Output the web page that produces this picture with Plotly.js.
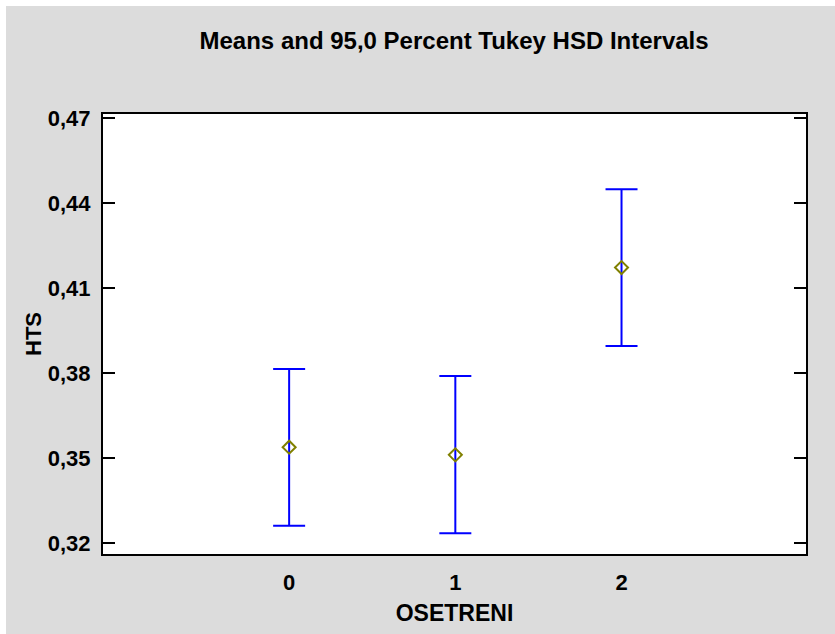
<!DOCTYPE html>
<html>
<head>
<meta charset="utf-8">
<script src="https://cdn.plot.ly/plotly-3.0.1.min.js"></script>
<style>
  html, body { margin: 0; padding: 0; background: #ffffff; width: 835px; height: 634px; overflow: hidden; }
  #chart { position: absolute; left: 6px; top: 6px; width: 829px; height: 628px; }
</style>
</head>
<body>
<div id="chart"></div>
<script>
// Data
const categories = [0, 1, 2];
const categoryLabels = ["0", "1", "2"];
const means = [0.3538, 0.3511, 0.4172];
const upper = [0.3814, 0.3789, 0.4448];
const lower = [0.3261, 0.3234, 0.3895];
const yTicks = [0.32, 0.35, 0.38, 0.41, 0.44, 0.47];

const errPlus = means.map((m, i) => upper[i] - m);
const errMinus = means.map((m, i) => m - lower[i]);

const font = "Liberation Sans, Arial, sans-serif";

const trace = {
  type: "scatter",
  mode: "markers",
  x: categories,
  y: means,
  marker: { symbol: "diamond-open", size: 10, color: "#808000", line: { width: 2, color: "#808000" } },
  error_y: {
    type: "data",
    symmetric: false,
    array: errPlus,
    arrayminus: errMinus,
    color: "#0000FF",
    thickness: 2,
    width: 16
  },
  showlegend: false,
  hoverinfo: "x+y"
};

const layout = {
  width: 829,
  height: 628,
  paper_bgcolor: "#DCDCDC",
  plot_bgcolor: "#FFFFFF",
  separators: ",.",
  margin: { l: 97, r: 29, t: 108, b: 80 },
  font: { family: font, color: "#000" },
  title: {
    text: "<b>Means and 95,0 Percent Tukey HSD Intervals</b>",
    font: { family: font, size: 24, color: "#000" },
    x: 0.5405, xanchor: "center",
    y: 0.945, yanchor: "middle"
  },
  xaxis: {
    range: [-1.12, 3.11],
    tickvals: categories,
    ticktext: categoryLabels.map(t => "<b>" + t + "</b>"),
    ticks: "",
    showgrid: false,
    zeroline: false,
    showline: true,
    linecolor: "#000",
    linewidth: 2,
    mirror: true,
    tickfont: { family: font, size: 22, color: "#000" },
    ticklabelstandoff: 8,
    title: { text: "<b>OSETRENI</b>", font: { family: font, size: 23, color: "#000" }, standoff: 10 }
  },
  yaxis: {
    range: [0.3161, 0.4714],
    tickvals: yTicks,
    ticktext: yTicks.map(v => "<b>" + v.toFixed(2).replace(".", ",") + "</b>"),
    ticks: "inside",
    ticklen: 12,
    tickwidth: 2,
    tickcolor: "#000",
    showgrid: false,
    zeroline: false,
    showline: true,
    linecolor: "#000",
    linewidth: 2,
    mirror: "ticks",
    tickfont: { family: font, size: 22, color: "#000" },
    ticklabelstandoff: 6,
    title: { text: "<b>HTS</b>", font: { family: font, size: 22, color: "#000" }, standoff: 0 }
  }
};

Plotly.newPlot("chart", [trace], layout, { staticPlot: true, displayModeBar: false });
</script>
</body>
</html>
